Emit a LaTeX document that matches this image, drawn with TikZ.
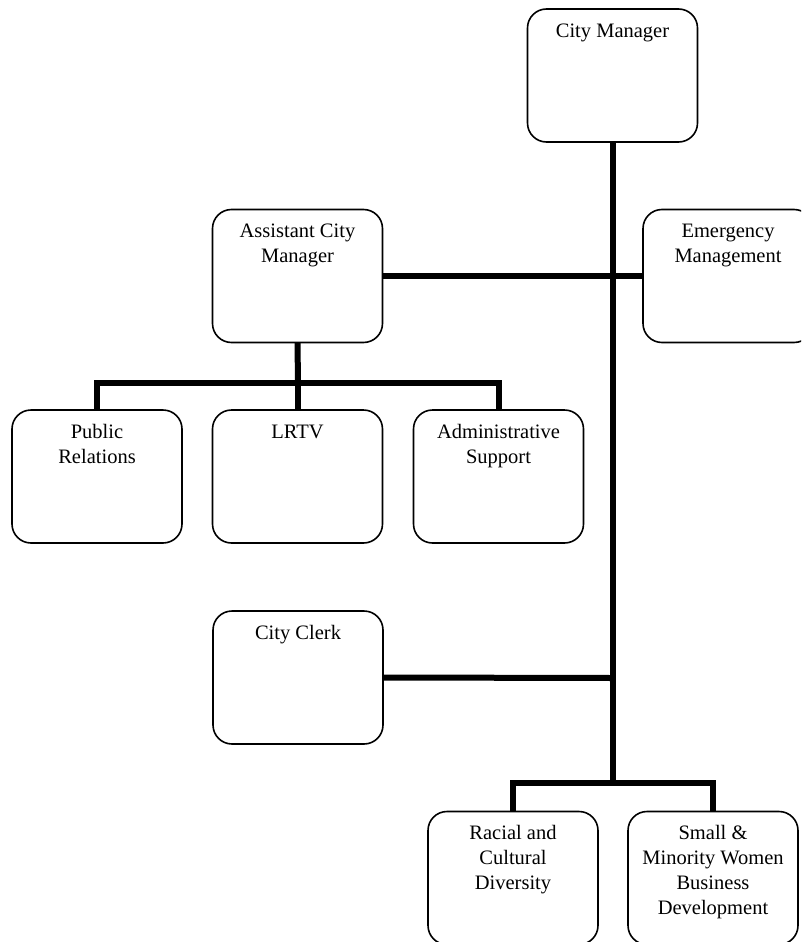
\documentclass[tikz,border=0pt]{standalone}
\usepackage{fontspec}
\setmainfont{Liberation Serif}
\newcommand{\orgtext}[1]{\parbox[c][133pt][t]{170pt}{\centering\vspace*{10.5pt}\strut #1}}
\tikzset{
  orgbox/.style={draw=black, line width=1.6pt, rounded corners=19pt, inner sep=0pt, outer sep=0pt, font=\fontsize{20.5pt}{25pt}\selectfont},
  link/.style={line width=6pt, line cap=rect}
}
\begin{document}
\begin{tikzpicture}[x=1pt,y=-1pt]
\useasboundingbox (0,0) rectangle (801,942);
\begin{scope}
\clip (0,0) rectangle (801,942);
\node[orgbox] (cm) at (612.5,75.5) {\orgtext{City Manager}};
\node[orgbox] (em) at (728,276) {\orgtext{Emergency\\Management}};
\node[orgbox] (acm) at (297.5,276) {\orgtext{Assistant City\\Manager}};
\node[orgbox] (pr) at (97,476.5) {\orgtext{Public\\Relations}};
\node[orgbox] (lrtv) at (297.5,476.5) {\orgtext{LRTV}};
\node[orgbox] (adm) at (498.5,476.5) {\orgtext{Administrative\\Support}};
\node[orgbox] (clerk) at (298,677.5) {\orgtext{City Clerk}};
\node[orgbox] (rcd) at (513,878) {\orgtext{Racial and\\Cultural\\Diversity}};
\node[orgbox] (smw) at (713,878) {\orgtext{Small \&\\Minority Women\\Business\\Development}};

\coordinate (trunkbot) at (613,783);
\coordinate (acmbus) at (298,383);
\coordinate (clerkj) at (613,678);

\draw[line width=6pt] (cm.south -| trunkbot) -- (trunkbot);
\draw[line width=6pt] (acm.east) -- (em.west);
\draw[line width=6pt] (clerk.east) -- (clerkj);
\draw[line width=6pt] (acm.south) -- (acmbus);
\draw[link] (acmbus -| pr.north) -- (acmbus -| adm.north);
\draw[line width=6pt] (acmbus -| pr.north) -- (pr.north);
\draw[line width=6pt] (acmbus -| lrtv.north) -- (lrtv.north);
\draw[line width=6pt] (acmbus -| adm.north) -- (adm.north);
\draw[link] (trunkbot -| rcd.north) -- (trunkbot -| smw.north);
\draw[line width=6pt] (trunkbot -| rcd.north) -- (rcd.north);
\draw[line width=6pt] (trunkbot -| smw.north) -- (smw.north);
\end{scope}
\end{tikzpicture}
\end{document}
